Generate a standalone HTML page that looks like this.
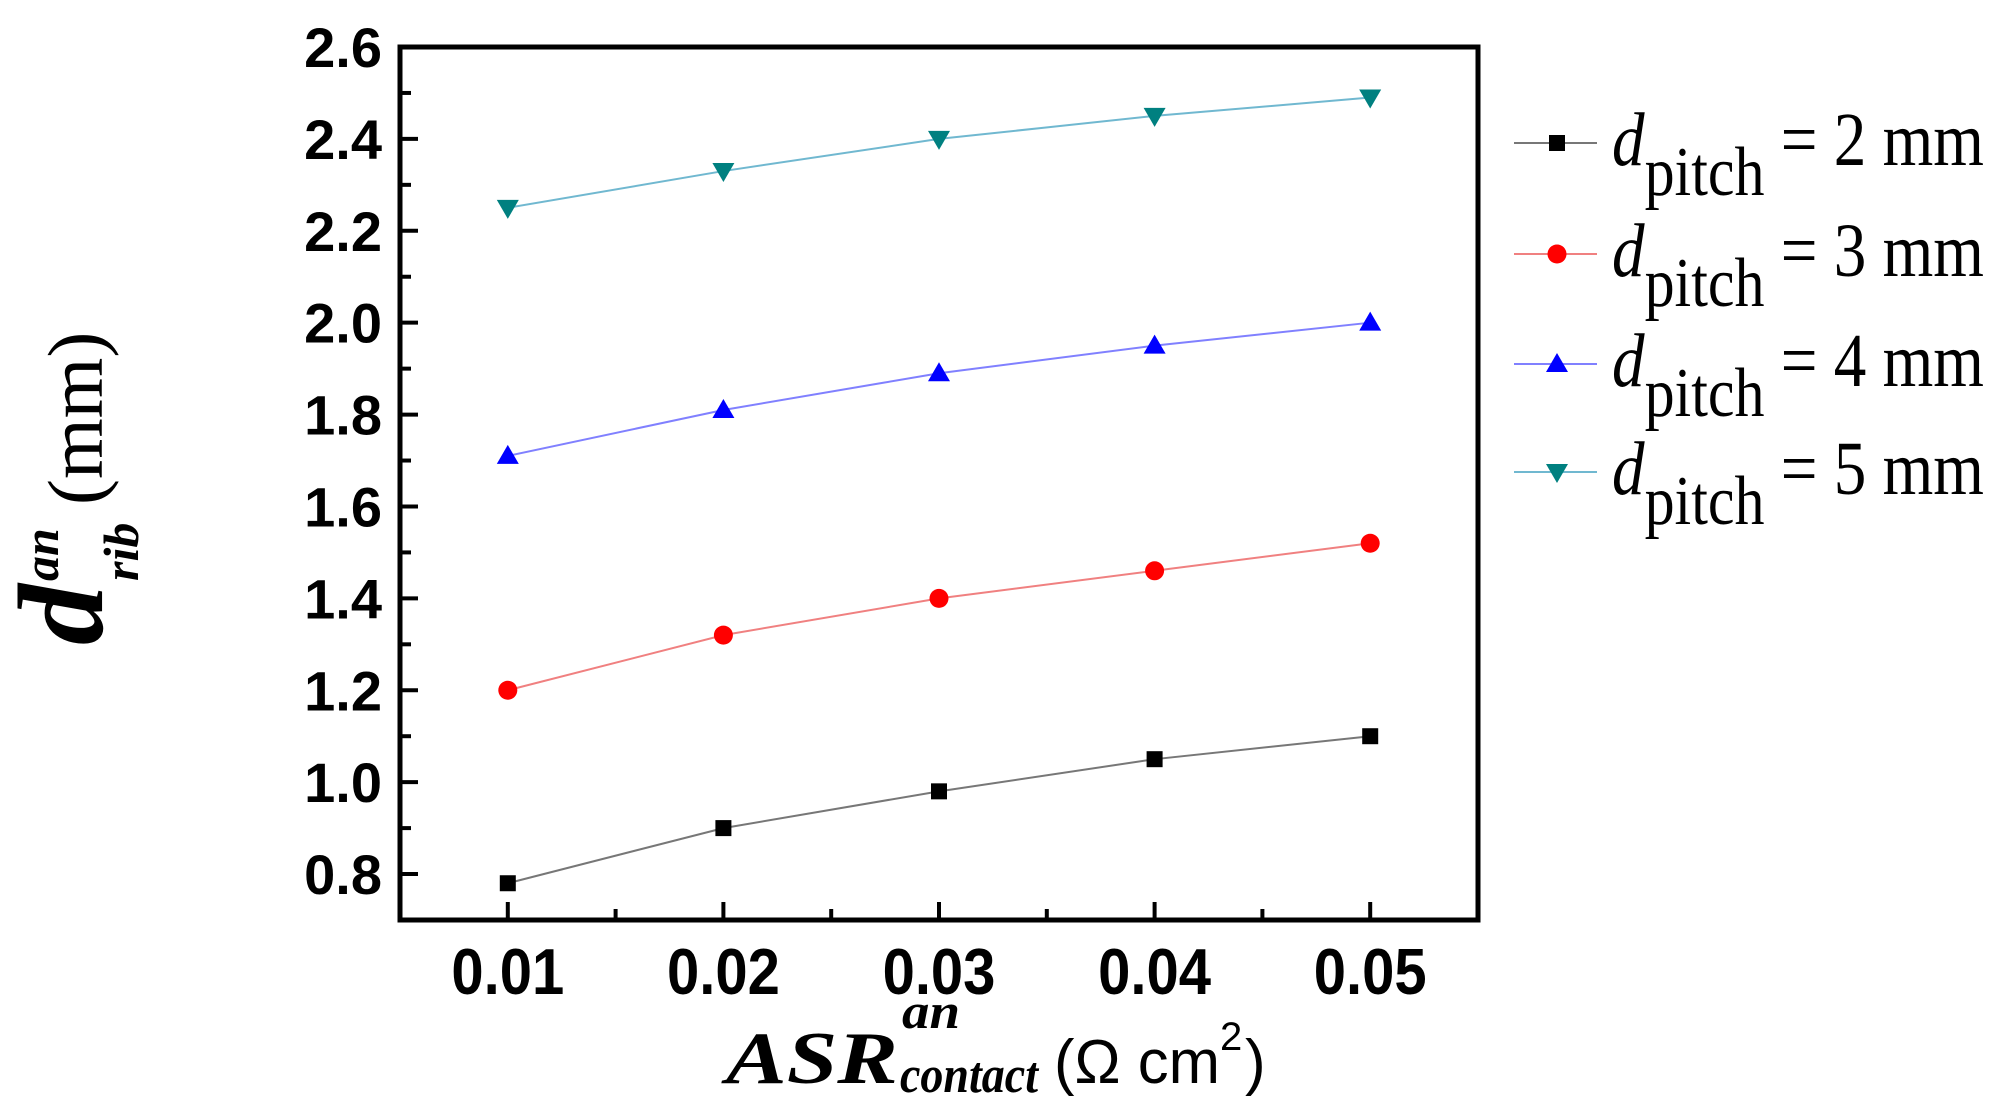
<!DOCTYPE html>
<html><head><meta charset="utf-8"><style>
html,body{margin:0;padding:0;background:#fff;}
svg{display:block;}
</style></head><body>
<svg id="chart" width="2004" height="1104" viewBox="0 0 2004 1104" xmlns="http://www.w3.org/2000/svg">
<rect x="0" y="0" width="2004" height="1104" fill="#fff"/>
<g id="plot"></g>
<g id="axes"></g>
<g transform="translate(102,645) rotate(-90)">
<text x="0" y="0" font-family="Liberation Serif, serif" font-weight="bold" font-style="italic" font-size="122" fill="#000">d</text>
<text x="64" y="-44" font-family="Liberation Serif, serif" font-weight="bold" font-style="italic" font-size="50" fill="#000">an</text>
<text x="64" y="36" font-family="Liberation Serif, serif" font-weight="bold" font-style="italic" font-size="50" fill="#000">rib</text>
<text x="140" y="0" font-family="Liberation Serif, serif" font-size="78" fill="#000">(mm)</text>
</g>
<g>
<text x="726" y="1083" font-family="Liberation Serif, serif" font-weight="bold" font-style="italic" font-size="74" textLength="172" lengthAdjust="spacingAndGlyphs" fill="#000">ASR</text>
<text x="902" y="1028" font-family="Liberation Serif, serif" font-weight="bold" font-style="italic" font-size="50" textLength="58" lengthAdjust="spacingAndGlyphs" fill="#000">an</text>
<text x="900" y="1092" font-family="Liberation Serif, serif" font-weight="bold" font-style="italic" font-size="52" textLength="138" lengthAdjust="spacingAndGlyphs" fill="#000">contact</text>
<text x="1054" y="1083" font-family="Liberation Sans, sans-serif" font-size="62" textLength="166" lengthAdjust="spacingAndGlyphs" fill="#000">(Ω cm</text>
<text x="1220" y="1050" font-family="Liberation Sans, sans-serif" font-size="40" fill="#000">2</text>
<text x="1245" y="1083" font-family="Liberation Sans, sans-serif" font-size="62" fill="#000">)</text>
</g>
<g id="legend"></g>
</svg>
<script>
const categories = [0.01, 0.02, 0.03, 0.04, 0.05];
const series2mm = [0.78, 0.90, 0.98, 1.05, 1.10];
const series3mm = [1.20, 1.32, 1.40, 1.46, 1.52];
const series4mm = [1.71, 1.81, 1.89, 1.95, 2.00];
const series5mm = [2.25, 2.33, 2.40, 2.45, 2.49];
const seriesLabels = ["2", "3", "4", "5"];
const yTickLabels = ["0.8","1.0","1.2","1.4","1.6","1.8","2.0","2.2","2.4","2.6"];
const xTickLabels = ["0.01","0.02","0.03","0.04","0.05"];

const NS = "http://www.w3.org/2000/svg";
const L = 400, R = 1478, T = 47, B = 920;
const xMin = 0.005, xMax = 0.055, yMin = 0.7, yMax = 2.6;
function xs(v){ return L + (v - xMin) / (xMax - xMin) * (R - L); }
function ys(v){ return B - (v - yMin) / (yMax - yMin) * (B - T); }
function mk(tag, attrs, parent){
  const e = document.createElementNS(NS, tag);
  for (const k in attrs) e.setAttribute(k, attrs[k]);
  parent.appendChild(e);
  return e;
}
const axes = document.getElementById('axes');
const plot = document.getElementById('plot');
const legend = document.getElementById('legend');

for (let i = 0; i < yTickLabels.length; i++) {
  const v = parseFloat(yTickLabels[i]);
  const y = ys(v);
  const t = mk('line', {x1:L, x2:L+18, y1:y, y2:y, stroke:'#000', 'stroke-width':4}, axes);
  
  
  if (v + 0.1 < yMax) {
    const m = mk('line', {x1:L, x2:L+11, y1:ys(v+0.1), y2:ys(v+0.1), stroke:'#000', 'stroke-width':4}, axes);
    
    
  }
  const tx = mk('text', {x:382, y:y+20, 'text-anchor':'end', 'font-family':'Liberation Sans, sans-serif', 'font-weight':'bold', 'font-size':56, fill:'#000'}, axes);
  tx.textContent = yTickLabels[i];
  
  
}
for (let i = 0; i < xTickLabels.length; i++) {
  const v = parseFloat(xTickLabels[i]);
  const x = xs(v);
  const t = mk('line', {x1:x, x2:x, y1:B, y2:B-18, stroke:'#000', 'stroke-width':4}, axes);
  
  
  if (v + 0.005 < xMax) {
    const mx = xs(v + 0.005);
    const m = mk('line', {x1:mx, x2:mx, y1:B, y2:B-11, stroke:'#000', 'stroke-width':4}, axes);
    
    
  }
  const tx = mk('text', {x:x, y:994, 'text-anchor':'middle', 'font-family':'Liberation Sans, sans-serif', 'font-weight':'bold', 'font-size':58, fill:'#000', transform:'translate(0,994) scale(1,1.12) translate(0,-994)'}, axes);
  tx.textContent = xTickLabels[i];
  
  
}
const frame = mk('rect', {x:L, y:T, width:R-L, height:B-T, fill:'none', stroke:'#000', 'stroke-width':5}, axes);



const allSeries = [series2mm, series3mm, series4mm, series5mm];
const lineColors = ['#777', '#f08080', '#8080ff', '#70b8d0'];
const markColors = ['#000', '#ff0000', '#0000ff', '#008080'];
const shapes = ['square', 'circle', 'up', 'down'];

function marker(shape, cx, cy, color, parent){
  let e;
  if (shape === 'square') e = mk('rect', {x:cx-8, y:cy-8, width:16, height:16, fill:color}, parent);
  else if (shape === 'circle') e = mk('circle', {cx:cx, cy:cy, r:9.5, fill:color}, parent);
  else if (shape === 'up') e = mk('polygon', {points:`${cx-11},${cy+8} ${cx+11},${cy+8} ${cx},${cy-11}`, fill:color}, parent);
  else e = mk('polygon', {points:`${cx-11},${cy-8} ${cx+11},${cy-8} ${cx},${cy+11}`, fill:color}, parent);
  return e;
}

for (let s = 0; s < allSeries.length; s++) {
  const data = allSeries[s];
  const pts = data.map((v, i) => `${xs(categories[i])},${ys(v)}`).join(' ');
  const pl = mk('polyline', {points:pts, fill:'none', stroke:lineColors[s], 'stroke-width':2}, plot);
  
  
  for (let i = 0; i < data.length; i++) {
    const m = marker(shapes[s], xs(categories[i]), ys(data[i]), markColors[s], plot);
    
    
  }
  const ly = [143, 254, 364, 472][s];
  const g = mk('g', {}, legend);
  
  
  mk('line', {x1:1514, x2:1597, y1:ly, y2:ly, stroke:lineColors[s], 'stroke-width':2}, g);
  marker(shapes[s], 1557, ly, markColors[s], g);
  const tg = mk('g', {}, g);
  const t = mk('text', {x:0, y:0, 'font-family':'Liberation Serif, serif', 'font-size':76, fill:'#000'}, tg);
  const d = document.createElementNS(NS, 'tspan'); d.setAttribute('font-style','italic'); d.textContent = 'd'; t.appendChild(d);
  const p = document.createElementNS(NS, 'tspan'); p.setAttribute('dy','30'); p.setAttribute('font-size','70'); p.textContent = 'pitch'; t.appendChild(p);
  const r = document.createElementNS(NS, 'tspan'); r.setAttribute('dy','-30'); r.textContent = ' = ' + seriesLabels[s] + ' mm'; t.appendChild(r);
  const w = t.getComputedTextLength() || 420;
  const sx = 372 / w;
  tg.setAttribute('transform', `translate(1612,${ly+22}) scale(${sx},1)`);
}
</script>
</body></html>
